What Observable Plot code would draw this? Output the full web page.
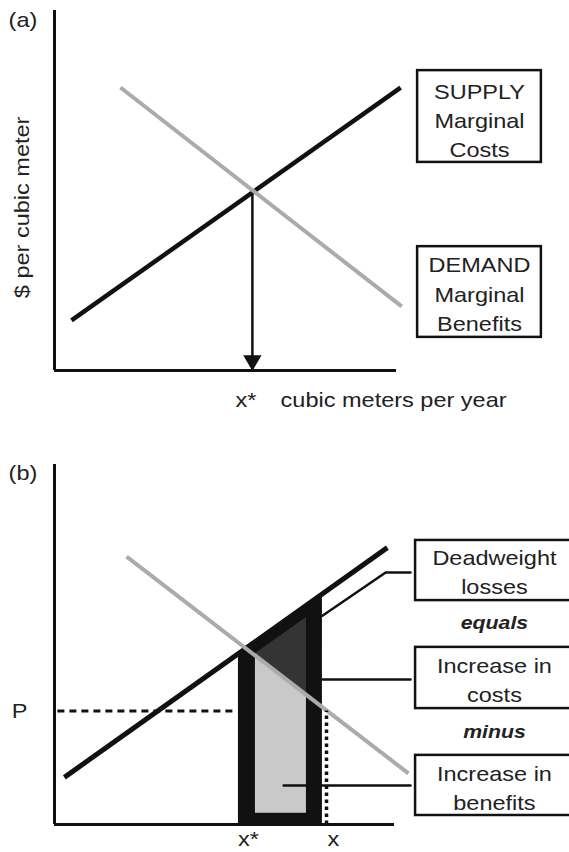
<!DOCTYPE html>
<html><head><meta charset="utf-8">
<script src="https://cdn.jsdelivr.net/npm/d3@7"></script>
<script src="https://cdn.jsdelivr.net/npm/@observablehq/plot@0.6"></script>
<style>
html,body{margin:0;padding:0;background:#fff;overflow:hidden;}
#wrap{position:relative;width:569px;height:852px;overflow:hidden;}
#wrap svg{position:absolute;left:0;overflow:visible;}
</style></head><body><div id="wrap"></div>
<script>
const FONT = "'Liberation Sans', Arial, Helvetica, sans-serif";
const INK = "#111";
const TEXT = "#222";

// ---------- Panel (a) ----------
const supplyA = [{q: 0.5, p: 1.39}, {q: 10.18, p: 7.86}];
const demandA = [{q: 1.94, p: 7.86}, {q: 10.21, p: 1.78}];
const equilibriumA = [{q: 5.82, p: 5.0}];
const boxesA = [
  {label: "SUPPLY\nMarginal\nCosts", q1: 10.68, q2: 14.32, p1: 5.78, p2: 8.33, qc: 12.5, pc: 7.0},
  {label: "DEMAND\nMarginal\nBenefits", q1: 10.68, q2: 14.32, p1: 0.92, p2: 3.44, qc: 12.5, pc: 2.17}
];
const labelsA = [
  {text: "(a)", q: -1.35, p: 9.72},
  {text: "x*", q: 5.32, p: -0.83},
  {text: "cubic meters per year", q: 6.65, p: -0.83}
];
const yTitleA = [{text: "$ per cubic meter", q: -0.94, p: 4.53}];

// ---------- Panel (b) ----------
const supplyB = [{q: 0.29, p: 1.31}, {q: 9.79, p: 7.69}];
const demandB = [{q: 2.12, p: 7.44}, {q: 10.41, p: 1.42}];
const costBand = [{q: 5.41, lo: 0, hi: 4.75}, {q: 7.88, lo: 0, hi: 6.41}];
const deadweightArea = [{q: 5.91, lo: 0.31, hi: 4.74}, {q: 7.41, lo: 0.31, hi: 5.75}];
const benefitArea = [{q: 5.91, lo: 0.31, hi: 4.69}, {q: 7.41, lo: 0.31, hi: 3.60}];
const priceP = [{q1: 0.1, q2: 5.3, p: 3.15}];
const quantityX = [{q: 8.0, p: 3.15}];
const leaderDeadweight = [{q: 10.47, p: 7.0}, {q: 9.74, p: 7.0}, {q: 7.88, p: 5.8}];
const leaderCosts = [{q: 7.88, p: 4.03}, {q: 10.47, p: 4.03}];
const leaderBenefits = [{q: 6.74, p: 1.08}, {q: 10.47, p: 1.08}];
const boxesB = [
  {label: "Deadweight\nlosses", q1: 10.62, q2: 15.3, p1: 6.22, p2: 7.89, qc: 12.94, pc: 7.06},
  {label: "Increase in\ncosts", q1: 10.62, q2: 15.3, p1: 3.22, p2: 4.92, qc: 12.94, pc: 4.06},
  {label: "Increase in\nbenefits", q1: 10.62, q2: 15.3, p1: 0.25, p2: 1.92, qc: 12.94, pc: 1.06}
];
const connectorsB = [{text: "equals", q: 12.94, p: 5.61}, {text: "minus", q: 12.94, p: 2.56}];
const labelsBStart = [
  {text: "(b)", q: -1.35, p: 9.75},
  {text: "x*", q: 5.4, p: -0.42}
];
const labelsBMiddle = [
  {text: "P", q: -1.03, p: 3.14},
  {text: "x", q: 8.2, p: -0.42}
];

const wrap = document.getElementById("wrap");
const FS = 21, SX = 1.12;

function stretchText(svg) {
  for (const t of svg.querySelectorAll("text")) {
    const tr = t.getAttribute("transform") || "";
    const x = +t.getAttribute("x") || 0, y = +t.getAttribute("y") || 0;
    t.setAttribute("transform", `${tr} translate(${x},${y}) scale(${SX},1) translate(${-x},${-y})`);
  }
}

const panelA = Plot.plot({
  width: 569, height: 425,
  marginLeft: 54, marginRight: 175, marginTop: 10, marginBottom: 55,
  x: {domain: [0, 10], axis: null},
  y: {domain: [0, 10], axis: null},
  style: {fontFamily: FONT, background: "transparent", overflow: "visible"},
  marks: [
    Plot.ruleY([0], {x1: 0, x2: 10.06, stroke: INK, strokeWidth: 3}),
    Plot.ruleX([0], {y1: 0, y2: 10, stroke: INK, strokeWidth: 3}),
    Plot.line(supplyA, {x: "q", y: "p", stroke: INK, strokeWidth: 4.5, strokeLinecap: "butt"}),
    Plot.ruleX(equilibriumA, {x: "q", y1: "p", y2: () => 0, stroke: INK, strokeWidth: 2.5}),
    Plot.dot(equilibriumA, {x: "q", y: () => 0, symbol: "triangle", r: 6.8, fill: INK, stroke: null, rotate: 180, dy: -10}),
    Plot.line(demandA, {x: "q", y: "p", stroke: "#ababab", strokeWidth: 4, strokeLinecap: "butt"}),
    Plot.rect(boxesA, {x1: "q1", x2: "q2", y1: "p1", y2: "p2", fill: "white", stroke: INK, strokeWidth: 2.5}),
    Plot.text(boxesA, {x: "qc", y: "pc", text: "label", fontSize: FS, lineHeight: 1.4, fill: TEXT}),
    Plot.text(labelsA, {x: "q", y: "p", text: "text", fontSize: FS, textAnchor: "start", fill: TEXT}),
    Plot.text(yTitleA, {x: "q", y: "p", text: "text", fontSize: FS, rotate: -90, fill: TEXT})
  ]
});
panelA.style.top = "0px";
stretchText(panelA);
wrap.appendChild(panelA);

const panelB = Plot.plot({
  width: 569, height: 427,
  marginLeft: 54, marginRight: 175, marginTop: 39, marginBottom: 28,
  x: {domain: [0, 10], axis: null},
  y: {domain: [0, 10], axis: null},
  style: {fontFamily: FONT, background: "transparent", overflow: "visible"},
  marks: [
    Plot.areaY(costBand, {x: "q", y1: "lo", y2: "hi", fill: INK}),
    Plot.areaY(deadweightArea, {x: "q", y1: "lo", y2: "hi", fill: "#343434"}),
    Plot.areaY(benefitArea, {x: "q", y1: "lo", y2: "hi", fill: "#c9c9c9"}),
    Plot.ruleY([0], {x1: 0, x2: 10.0, stroke: INK, strokeWidth: 3}),
    Plot.ruleX([0], {y1: 0, y2: 10, stroke: INK, strokeWidth: 3}),
    Plot.line(supplyB, {x: "q", y: "p", stroke: INK, strokeWidth: 5, strokeLinecap: "butt"}),
    Plot.line(demandB, {x: "q", y: "p", stroke: "#ababab", strokeWidth: 4, strokeLinecap: "butt"}),
    Plot.ruleY(priceP, {x1: "q1", x2: "q2", y: "p", stroke: INK, strokeWidth: 3, strokeDasharray: "7,5"}),
    Plot.ruleX(quantityX, {x: "q", y1: () => 0, y2: "p", stroke: INK, strokeWidth: 3.5, strokeDasharray: "3.5,3.5"}),
    Plot.line(leaderDeadweight, {x: "q", y: "p", stroke: INK, strokeWidth: 2.5}),
    Plot.line(leaderCosts, {x: "q", y: "p", stroke: INK, strokeWidth: 2.5}),
    Plot.line(leaderBenefits, {x: "q", y: "p", stroke: INK, strokeWidth: 2.5}),
    Plot.rect(boxesB, {x1: "q1", x2: "q2", y1: "p1", y2: "p2", fill: "white", stroke: INK, strokeWidth: 2.5}),
    Plot.text(boxesB, {x: "qc", y: "pc", text: "label", fontSize: FS, lineHeight: 1.4, fill: TEXT}),
    Plot.text(connectorsB, {x: "q", y: "p", text: "text", fontSize: 19, fontWeight: "bold", fontStyle: "italic", fill: TEXT}),
    Plot.text(labelsBStart, {x: "q", y: "p", text: "text", fontSize: FS, textAnchor: "start", fill: TEXT}),
    Plot.text(labelsBMiddle, {x: "q", y: "p", text: "text", fontSize: FS, textAnchor: "middle", fill: TEXT})
  ]
});
panelB.style.top = "425px";
stretchText(panelB);
wrap.appendChild(panelB);
</script>
</body></html>
